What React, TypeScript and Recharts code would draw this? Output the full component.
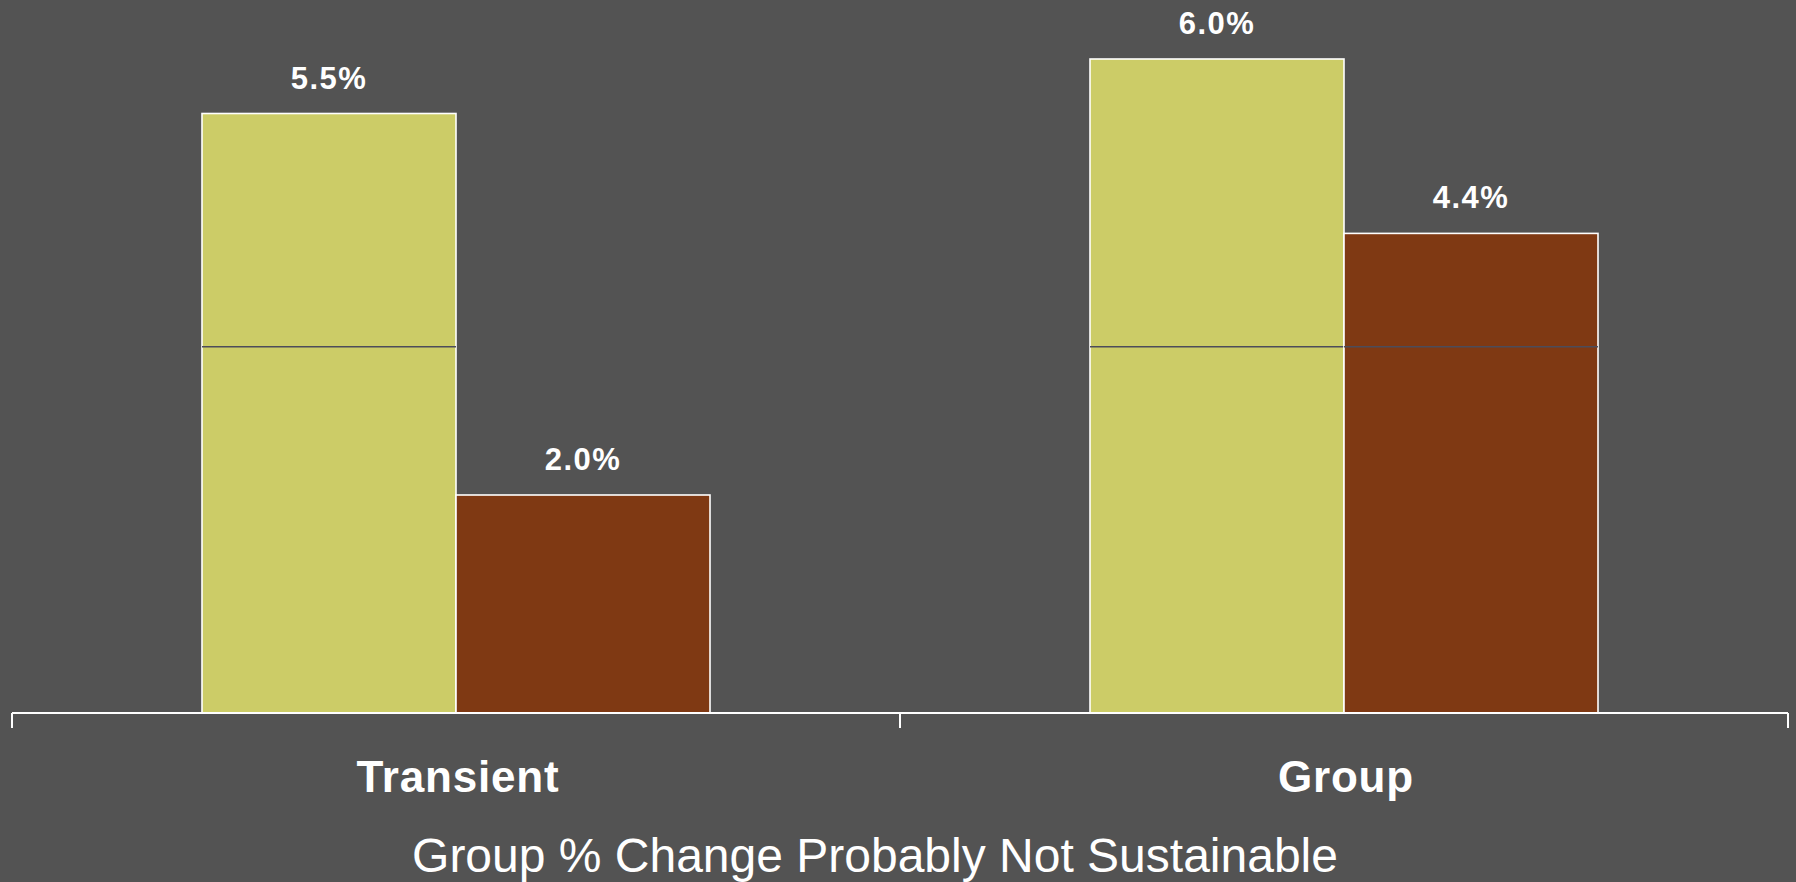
import React from 'react';
import { BarChart, Bar, XAxis, YAxis, LabelList } from 'recharts';

const categories = ['Transient', 'Group'];
const seriesA = [5.5, 6.0];
const seriesB = [2.0, 4.4];
const gridValue = 3.36;
const yDomain = [0, 6.5];
const title = 'Group % Change Probably Not Sustainable';

const data = categories.map((c, i) => ({ name: c, a: seriesA[i], b: seriesB[i] }));

const BG = '#535353';
const GREEN = '#cccc67';
const BROWN = '#7f3913';
const FONT = '"Liberation Sans", Arial, Helvetica, sans-serif';

const makeShape = (key: string) => (props: any) => {
  const { x, y, width, height, fill, payload } = props;
  const val = payload[key];
  const lineY = y + height - height * (gridValue / val);
  return (
    <g>
      <rect x={x} y={y} width={width} height={height} fill={fill} stroke="#ffffff" strokeWidth={1.6} />
      {val > gridValue && (
        <line x1={x} x2={x + width} y1={lineY} y2={lineY} stroke="#4c4c5a" strokeWidth={1.5} />
      )}
    </g>
  );
};

const renderLabel = (props: any) => {
  const { x, y, width, value } = props;
  return (
    <text
      x={x + width / 2}
      y={y - 25}
      textAnchor="middle"
      fill="#ffffff"
      fontFamily={FONT}
      fontWeight="bold"
      fontSize={31}
      letterSpacing={1.5}
    >
      {Number(value).toFixed(1)}%
    </text>
  );
};

const CategoryTick = (props: any) => {
  const { x, y, payload } = props;
  const half = 444;
  return (
    <g>
      <line x1={x - half} x2={x - half} y1={y} y2={y + 15} stroke="#ffffff" strokeWidth={2} />
      <line x1={x + half} x2={x + half} y1={y} y2={y + 15} stroke="#ffffff" strokeWidth={2} />
      <text
        x={x + 2}
        y={y + 79}
        textAnchor="middle"
        fill="#ffffff"
        fontFamily={FONT}
        fontWeight="bold"
        fontSize={44}
        letterSpacing={0.8}
      >
        {payload.value}
      </text>
    </g>
  );
};

export default function App() {
  return (
    <div style={{ position: 'absolute', left: 0, top: 0, width: 1796, height: 882, background: BG, overflow: 'hidden' }}>
      <BarChart
        width={1796}
        height={882}
        data={data}
        margin={{ top: 4.5, right: 8, bottom: 0, left: 12 }}
        barGap={0}
        barSize={254}
      >
        <XAxis
          dataKey="name"
          height={169}
          axisLine={{ stroke: '#ffffff', strokeWidth: 2 }}
          tickLine={false}
          tickSize={0}
          tickMargin={0}
          interval={0}
          tick={<CategoryTick />}
        />
        <YAxis hide domain={yDomain} />
        <Bar dataKey="a" fill={GREEN} isAnimationActive={false} shape={makeShape('a')}>
          <LabelList dataKey="a" content={renderLabel} />
        </Bar>
        <Bar dataKey="b" fill={BROWN} isAnimationActive={false} shape={makeShape('b')}>
          <LabelList dataKey="b" content={renderLabel} />
        </Bar>
      </BarChart>
      <svg width={1796} height={882} style={{ position: 'absolute', left: 0, top: 0, pointerEvents: 'none' }}>
        <text x={875} y={872} textAnchor="middle" fill="#ffffff" fontFamily={FONT} fontSize={48}>
          {title}
        </text>
      </svg>
    </div>
  );
}
